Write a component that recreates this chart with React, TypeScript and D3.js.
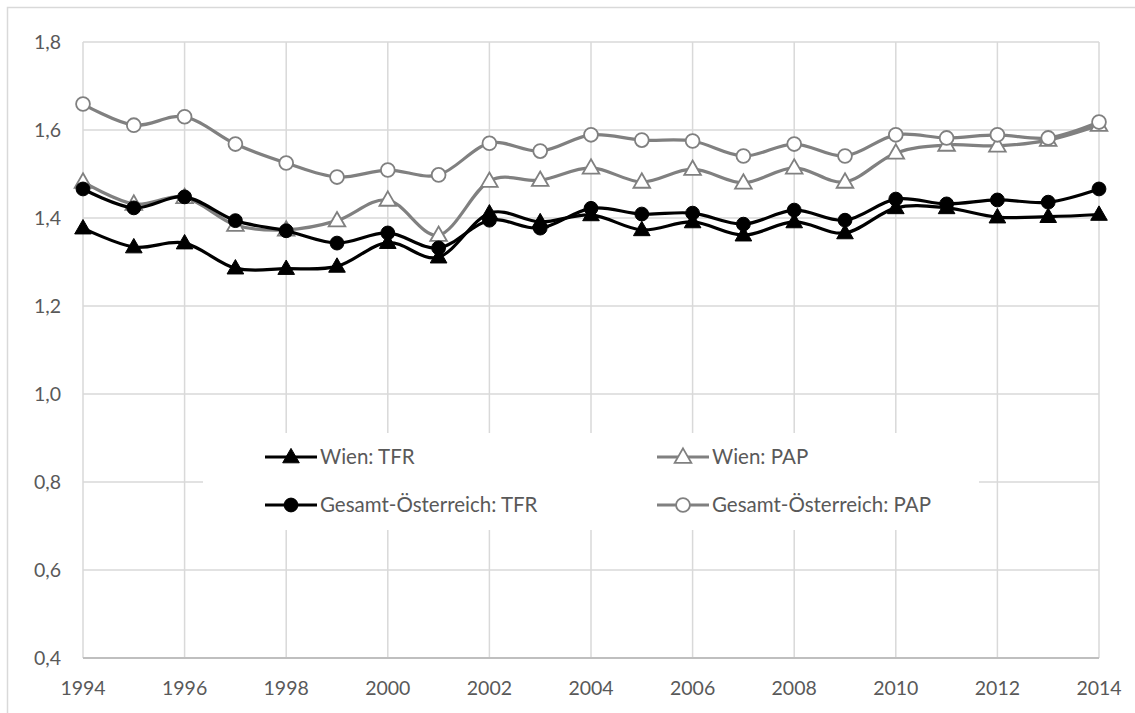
import React, { useEffect, useRef } from 'react';
import * as d3 from 'd3';

const years = d3.range(1994, 2015);
const yTicks = [0.4, 0.6, 0.8, 1.0, 1.2, 1.4, 1.6, 1.8];

const wienTFR = [1.377, 1.334, 1.343, 1.286, 1.285, 1.290, 1.344, 1.311, 1.411, 1.391, 1.407, 1.373, 1.391, 1.361, 1.391, 1.366, 1.423, 1.423, 1.402, 1.403, 1.408];
const wienPAP = [1.482, 1.432, 1.447, 1.384, 1.373, 1.394, 1.441, 1.361, 1.484, 1.486, 1.514, 1.482, 1.511, 1.480, 1.514, 1.482, 1.548, 1.566, 1.564, 1.577, 1.611];
const oeTFR = [1.466, 1.423, 1.448, 1.394, 1.371, 1.343, 1.366, 1.332, 1.395, 1.377, 1.422, 1.409, 1.411, 1.386, 1.418, 1.395, 1.443, 1.432, 1.441, 1.436, 1.466];
const oePAP = [1.659, 1.611, 1.630, 1.568, 1.525, 1.493, 1.509, 1.498, 1.570, 1.552, 1.589, 1.577, 1.575, 1.541, 1.568, 1.541, 1.589, 1.582, 1.589, 1.582, 1.618];

const series = [
  { name: 'Wien: TFR', values: wienTFR, color: '#000000', marker: 'triangle', filled: true },
  { name: 'Wien: PAP', values: wienPAP, color: '#808080', marker: 'triangle', filled: false },
  { name: 'Gesamt-Österreich: TFR', values: oeTFR, color: '#000000', marker: 'circle', filled: true },
  { name: 'Gesamt-Österreich: PAP', values: oePAP, color: '#808080', marker: 'circle', filled: false },
];

const FONT = 'Lato, "Open Sans", sans-serif';

const App: React.FC = () => {
  const svgRef = useRef<SVGSVGElement>(null);

  useEffect(() => {
    if (!svgRef.current) return;
    const svg = d3.select(svgRef.current);
    svg.selectAll('*').remove();

    const left = 83, right = 1099, top = 42, bottom = 658;

    const x = d3.scaleLinear().domain([1994, 2014]).range([left, right]);
    const y = d3.scaleLinear().domain([0.4, 1.8]).range([bottom, top]);

    // chart frame
    svg.append('rect')
      .attr('x', 7.5).attr('y', 7.5)
      .attr('width', 1200).attr('height', 800)
      .attr('fill', 'white')
      .attr('stroke', '#d9d9d9')
      .attr('stroke-width', 1.5);

    // gridlines
    const grid = svg.append('g');
    yTicks.filter(t => t > 0.4).forEach(t => {
      grid.append('line')
        .attr('x1', left).attr('x2', right)
        .attr('y1', y(t)).attr('y2', y(t))
        .attr('stroke', '#d9d9d9').attr('stroke-width', 1.5);
    });
    years.filter(yr => (yr - 1994) % 2 === 0).forEach(yr => {
      grid.append('line')
        .attr('x1', x(yr)).attr('x2', x(yr))
        .attr('y1', top).attr('y2', bottom)
        .attr('stroke', '#d9d9d9').attr('stroke-width', 1.5);
    });
    grid.append('line')
      .attr('x1', left).attr('x2', right)
      .attr('y1', bottom).attr('y2', bottom)
      .attr('stroke', '#bfbfbf').attr('stroke-width', 2);

    // axis labels
    svg.append('g').selectAll('text')
      .data(yTicks)
      .enter().append('text')
      .attr('x', 61).attr('y', d => y(d))
      .attr('dy', '0.36em')
      .attr('text-anchor', 'end')
      .attr('font-family', FONT).attr('font-size', 19.5)
      .attr('fill', '#595959')
      .text(d => d3.format('.1f')(d).replace('.', ','));

    svg.append('g').selectAll('text')
      .data(years.filter(yr => (yr - 1994) % 2 === 0))
      .enter().append('text')
      .attr('x', d => x(d)).attr('y', 695)
      .attr('text-anchor', 'middle')
      .attr('font-family', FONT).attr('font-size', 19.5)
      .attr('fill', '#595959')
      .text(d => String(d));

    // legend background
    svg.append('rect')
      .attr('x', 203).attr('y', 433)
      .attr('width', 776).attr('height', 97)
      .attr('fill', 'white');

    const tri = d3.symbol().type(d3.symbolTriangle).size(120);
    const circ = d3.symbol().type(d3.symbolCircle).size(150);

    const drawMarker = (g: any, s: typeof series[number], cx: number, cy: number) => {
      g.append('path')
        .attr('d', s.marker === 'triangle' ? tri() : circ())
        .attr('transform', `translate(${cx},${cy + (s.marker === 'triangle' ? 1 : 0)})`)
        .attr('fill', s.filled ? s.color : 'white')
        .attr('stroke', s.color)
        .attr('stroke-width', s.filled ? 1 : 1.8);
    };

    const line = d3.line<number>()
      .x((_, i) => x(years[i]))
      .y(d => y(d))
      .curve(d3.curveCatmullRom.alpha(0));

    series.forEach(s => {
      const g = svg.append('g');
      g.append('path')
        .attr('d', line(s.values))
        .attr('fill', 'none')
        .attr('stroke', s.color)
        .attr('stroke-width', 3.2)
        .attr('stroke-linejoin', 'round');
      s.values.forEach((v, i) => drawMarker(g, s, x(years[i]), y(v)));
    });

    // legend entries
    const legendPos = [
      { lx: 265, ly: 457 },
      { lx: 657, ly: 457 },
      { lx: 265, ly: 505 },
      { lx: 657, ly: 505 },
    ];
    series.forEach((s, i) => {
      const { lx, ly } = legendPos[i];
      const g = svg.append('g');
      g.append('line')
        .attr('x1', lx).attr('x2', lx + 52)
        .attr('y1', ly).attr('y2', ly)
        .attr('stroke', s.color).attr('stroke-width', 3.2);
      drawMarker(g, s, lx + 26, ly);
      g.append('text')
        .attr('x', lx + 55).attr('y', ly)
        .attr('dy', '0.36em')
        .attr('font-family', FONT).attr('font-size', 20.5)
        .attr('fill', '#595959')
        .text(s.name);
    });
  }, []);

  return (
    <svg
      ref={svgRef}
      width={1135}
      height={713}
      style={{ position: 'absolute', left: 0, top: 0, background: 'white' }}
    />
  );
};

export default App;
